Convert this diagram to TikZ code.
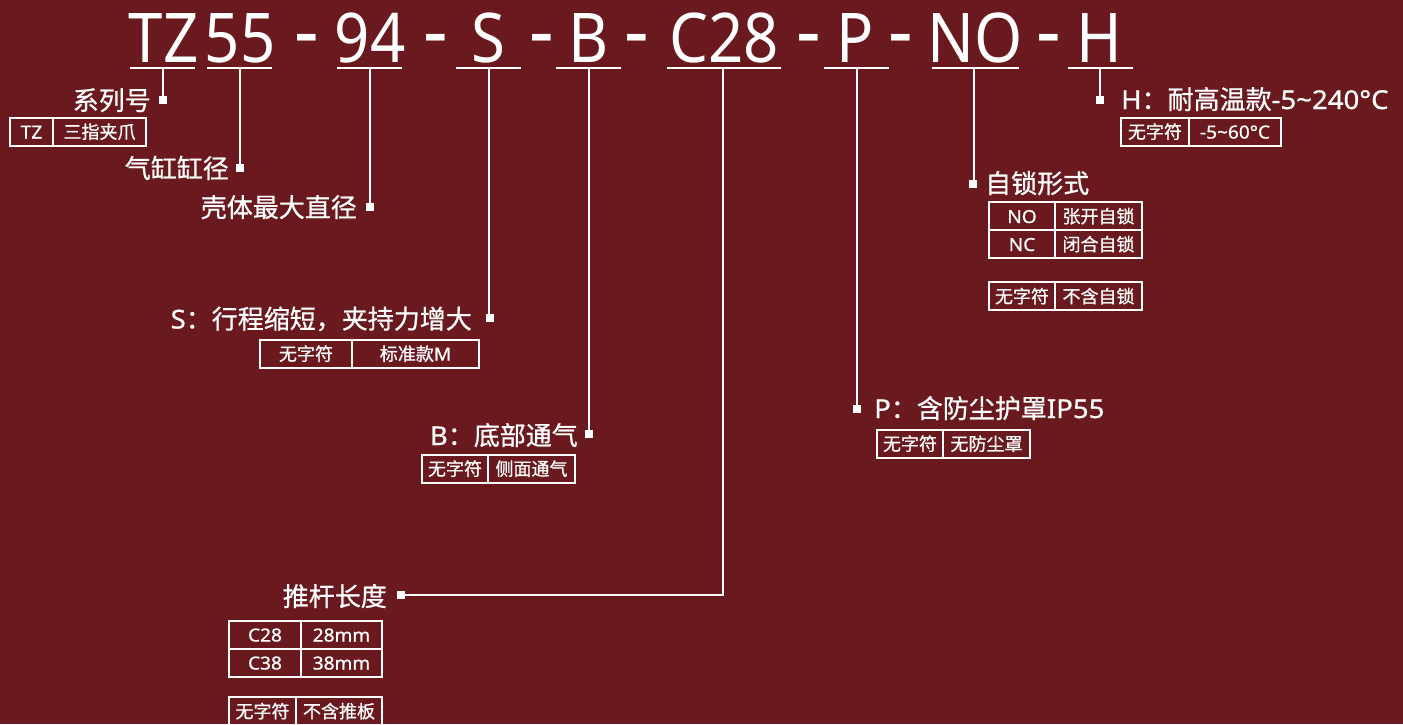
\documentclass[tikz,border=0pt]{standalone}
\usepackage{fontspec}
\setmainfont{Noto Sans CJK SC}[FakeBold=0.8]
\newfontfamily\titlefont[FakeStretch=0.9]{Noto Sans}
\newfontfamily\lat[FakeStretch=1.06,FakeBold=0.8]{Noto Sans}
\definecolor{bg}{RGB}{106,26,30}
\begin{document}
\begin{tikzpicture}[x=1pt,y=-1pt,
  ttl/.style={font=\titlefont\fontsize{68.6}{70}\selectfont, text=white, inner sep=0, anchor=base},
  dsh/.style={font=\titlefont\bfseries\fontsize{85}{86}\selectfont, text=white, inner sep=0, anchor=base},
  lbl/.style={font=\fontsize{26}{28}\selectfont, text=white, inner sep=0},
  cell/.style={draw=white, line width=2pt, text=white, font=\fontsize{18}{20}\selectfont,
    inner sep=0, outer sep=0, anchor=north west, minimum height=28pt, text height=14pt, text depth=0pt},
  sq/.style={fill=white, minimum size=8pt, inner sep=0, outer sep=0},
  ln/.style={draw=white, line width=2pt},
]
\path[use as bounding box, fill=bg] (0,0) rectangle (1403,724);
\clip (0,0) rectangle (1403,724);

% title segments
\node[ttl] (tTZ) at (163.5,62) {TZ};
\node[ttl] (t55) at (240,62) {55};
\node[dsh] (d1) at (307,60) {-};
\node[ttl] (t94) at (370,62) {94};
\node[dsh] (d2) at (436,60) {-};
\node[ttl] (tS) at (488,62) {S};
\node[dsh] (d3) at (542,60) {-};
\node[ttl] (tB) at (589,62) {B};
\node[dsh] (d4) at (637,60) {-};
\node[ttl] (tC) at (724,62) {C28};
\node[dsh] (d5) at (809,60) {-};
\node[ttl] (tP) at (855,62) {P};
\node[dsh] (d6) at (901,60) {-};
\node[ttl] (tNO) at (975,62) {NO};
\node[dsh] (d7) at (1049,60) {-};
\node[ttl] (tH) at (1099,62) {H};

% underline anchor points
\coordinate (u1) at (163,68);
\coordinate (u2) at (240,68);
\coordinate (u3) at (370,68);
\coordinate (u4) at (489,68);
\coordinate (u5) at (589,68);
\coordinate (u6) at (723,68);
\coordinate (u7) at (857,68);
\coordinate (u8) at (974,68);
\coordinate (u9) at (1100,68);

\draw[ln] (130,68) -- (195,68);
\draw[ln] (207,68) -- (272,68);
\draw[ln] (337,68) -- (402,68);
\draw[ln] (456,68) -- (521,68);
\draw[ln] (556,68) -- (621,68);
\draw[ln] (667,68) -- (781,68);
\draw[ln] (824,68) -- (889,68);
\draw[ln] (932,68) -- (1019,68);
\draw[ln] (1068,68) -- (1133,68);

% markers
\node[sq] (m1) at (163,100) {};
\node[sq] (m2) at (240,168) {};
\node[sq] (m3) at (370,207) {};
\node[sq] (m4) at (490,318) {};
\node[sq] (m5) at (589,434) {};
\node[sq] (m6) at (401,595) {};
\node[sq] (m7) at (857,409) {};
\node[sq] (m8) at (973,184) {};
\node[sq] (m9) at (1100,100) {};

% leaders
\draw[ln] (u1) -- (m1);
\draw[ln] (u2) -- (m2);
\draw[ln] (u3) -- (m3);
\draw[ln] (u4) -- (u4 |- m4) -- (m4);
\draw[ln] (u5) -- (m5);
\draw[ln] (u6) |- (m6);
\draw[ln] (u7) -- (m7);
\draw[ln] (u8) -- (u8 |- m8) -- (m8);
\draw[ln] (u9) -- (m9);

% labels
\node[lbl, anchor=base east] (l1) at (151,110) {系列号};
\node[lbl, anchor=base east] (l2) at (229,178) {气缸缸径};
\node[lbl, anchor=base east] (l3) at (357,217) {壳体最大直径};
\node[lbl, anchor=base east] (l4) at (472,328.5) {{\lat S}：行程缩短，夹持力增大};
\node[lbl, anchor=base east] (l5) at (578,445) {{\lat B}：底部通气};
\node[lbl, anchor=base east] (l6) at (387,606) {推杆长度};
\node[lbl, anchor=base west] (l7) at (874,418) {{\lat P}：含防尘护罩{\lat IP55}};
\node[lbl, anchor=base west] (l8) at (985,193) {自锁形式};
\node[lbl, anchor=base west] (l9) at (1121,109) {{\lat H}：耐高温款{\lat -5\char"7E\relax 240°C}};

% tables
\node[cell, minimum width=43pt] (a1) at (10,117.5) {\lat TZ};
\node[cell, minimum width=93pt] (a2) at (a1.north east) {三指夹爪};

\node[cell, minimum width=68pt] (h1) at (1121,117.5) {无字符};
\node[cell, minimum width=92pt] (h2) at (h1.north east) {\lat -5\char"7E\relax 60°C};

\node[cell, minimum width=92pt] (s1) at (260,339.5) {无字符};
\node[cell, minimum width=127pt] (s2) at (s1.north east) {标准款{\lat M}};

\node[cell, minimum width=66pt] (b1) at (422,454.5) {无字符};
\node[cell, minimum width=87pt] (b2) at (b1.north east) {侧面通气};

\node[cell, minimum width=66pt] (p1) at (877,429.5) {无字符};
\node[cell, minimum width=87pt] (p2) at (p1.north east) {无防尘罩};

\node[cell, minimum width=66pt] (n1) at (989,202) {\lat NO};
\node[cell, minimum width=87pt] (n2) at (n1.north east) {张开自锁};
\node[cell, minimum width=66pt] (n3) at (n1.south west) {\lat NC};
\node[cell, minimum width=87pt] (n4) at (n3.north east) {闭合自锁};

\node[cell, minimum width=66pt] (k1) at (989,282) {无字符};
\node[cell, minimum width=87pt] (k2) at (k1.north east) {不含自锁};

\node[cell, minimum width=72pt] (c1) at (229,620.5) {\lat C28};
\node[cell, minimum width=81pt] (c2) at (c1.north east) {\lat 28mm};
\node[cell, minimum width=72pt] (c3) at (c1.south west) {\lat C38};
\node[cell, minimum width=81pt] (c4) at (c3.north east) {\lat 38mm};

\node[cell, minimum width=67pt] (e1) at (229,697) {无字符};
\node[cell, minimum width=86pt] (e2) at (e1.north east) {不含推板};
\end{tikzpicture}
\end{document}
